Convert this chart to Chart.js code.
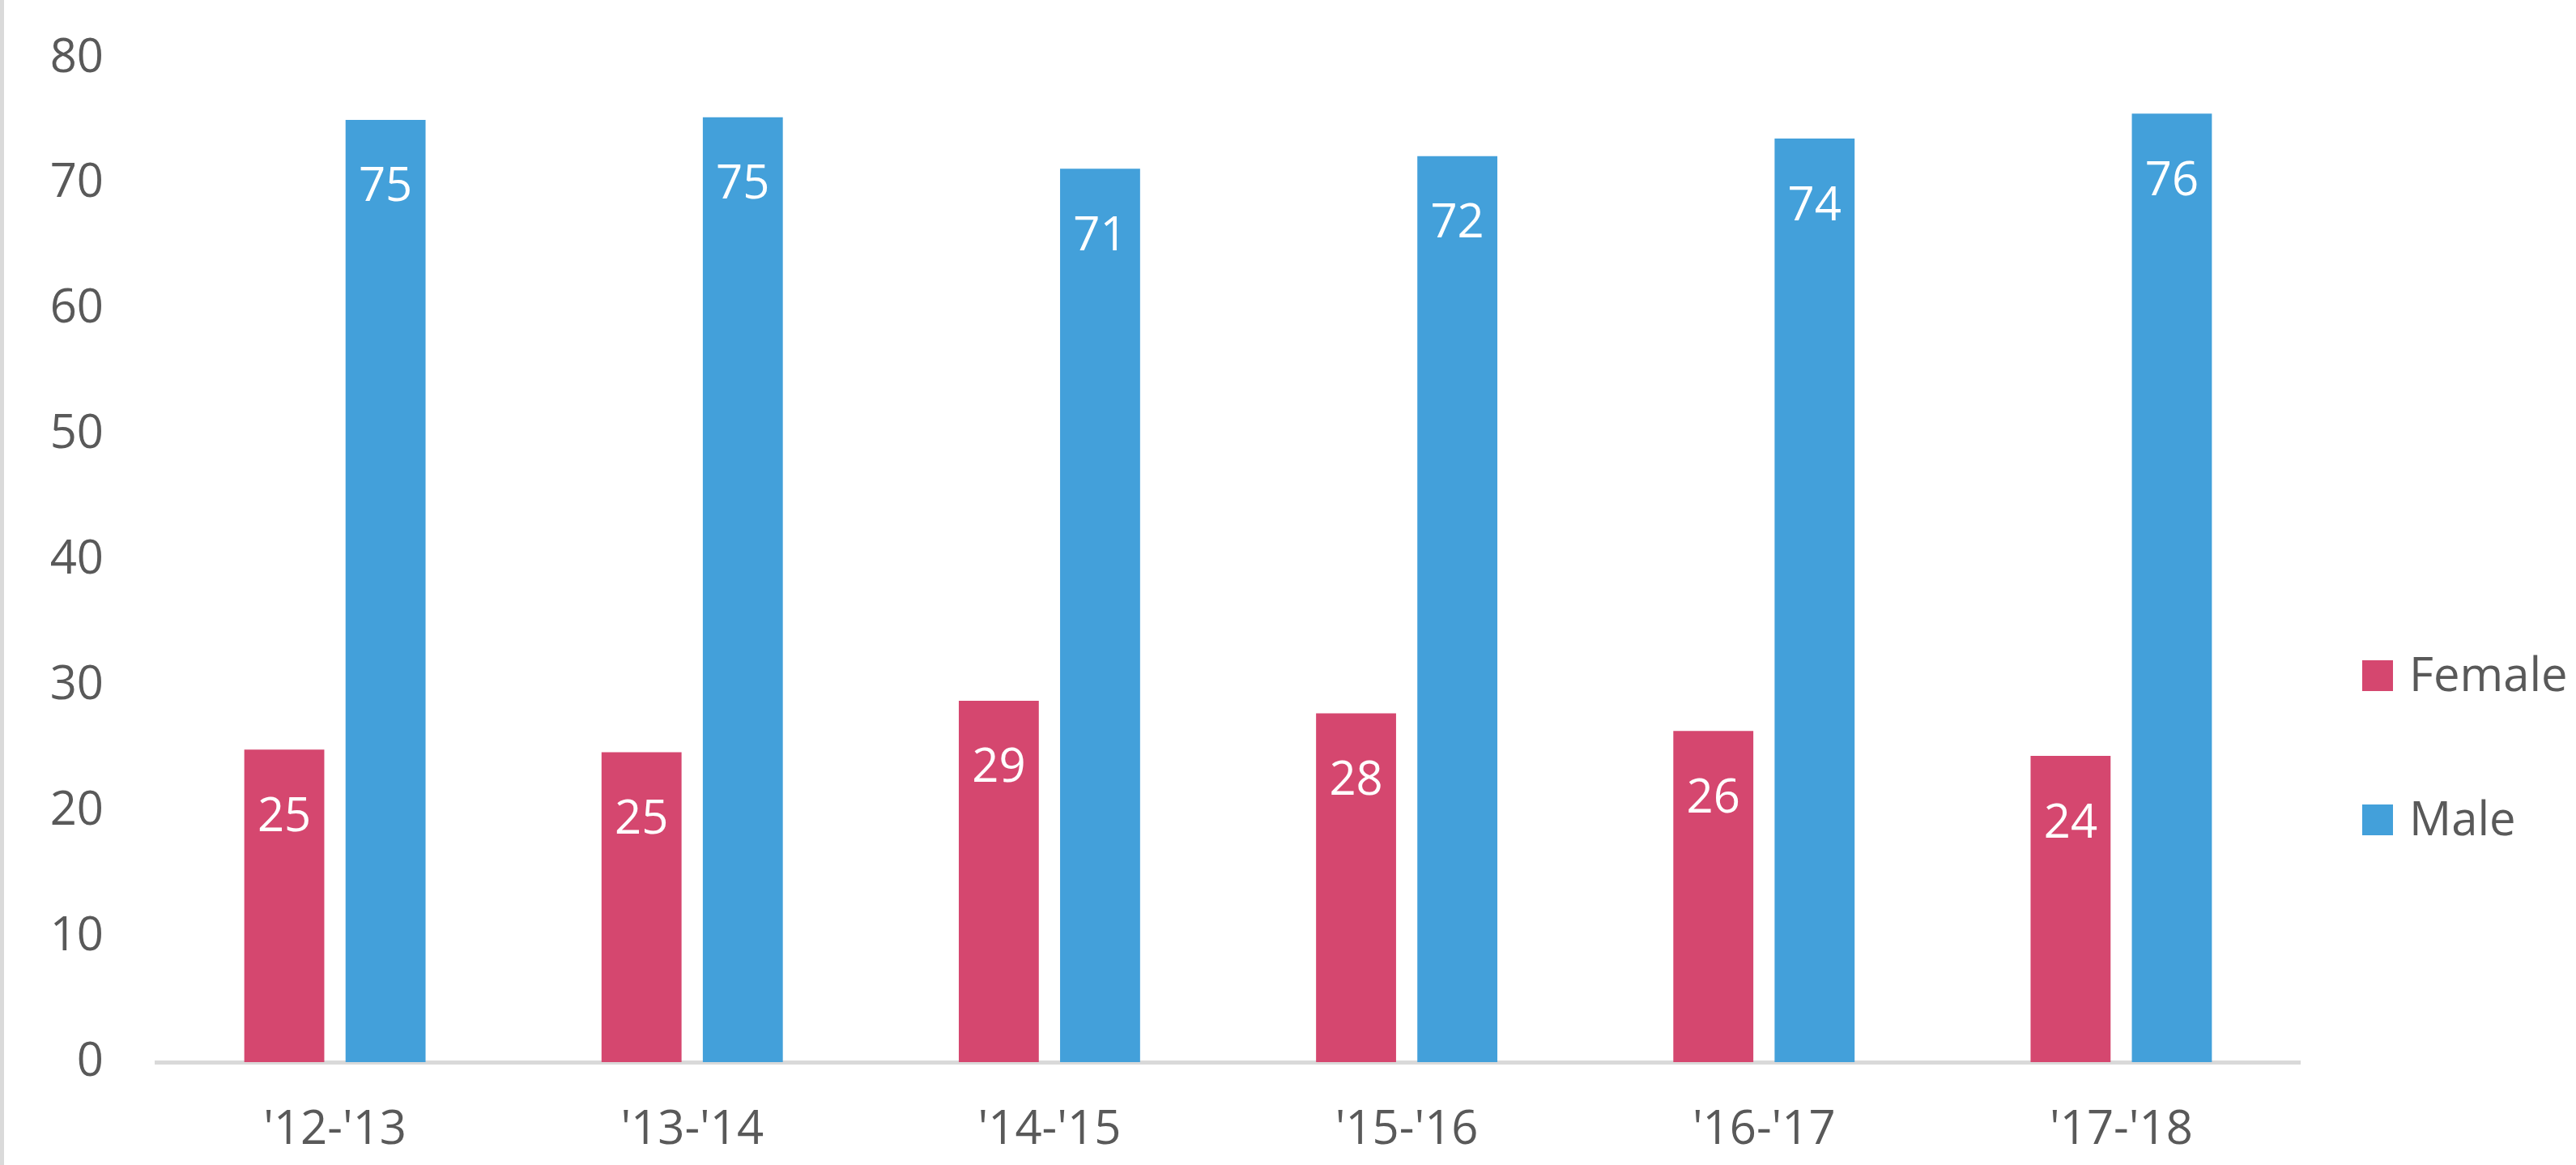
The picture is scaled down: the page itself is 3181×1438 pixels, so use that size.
<!DOCTYPE html>
<html lang="en">
<head>
  <meta charset="utf-8" />
  <title>Female vs Male by Year</title>
  <script src="https://cdn.jsdelivr.net/npm/chart.js@4/dist/chart.umd.min.js"></script>
  <style>
    html, body {
      margin: 0;
      padding: 0;
      background: #ffffff;
      overflow: hidden;
    }
    #chart-container {
      position: relative;
      width: 3181px;
      height: 1438px;
    }
    #left-edge {
      position: absolute;
      left: 0;
      top: 0;
      width: 5px;
      height: 1438px;
      background: #dadada;
    }
  </style>
</head>
<body>
  <div id="chart-container">
    <canvas id="genderBars" width="3181" height="1438"></canvas>
    <div id="left-edge"></div>
  </div>

  <script>
    // Data
    const years = ["'12-'13", "'13-'14", "'14-'15", "'15-'16", "'16-'17", "'17-'18"];
    const female = [24.9, 24.7, 28.8, 27.8, 26.4, 24.4];
    const male = [75.1, 75.3, 71.2, 72.2, 73.6, 75.6];
    const yTicks = [0, 10, 20, 30, 40, 50, 60, 70, 80];

    const TEXT_GREY = "#595959";
    const FONT = "'Open Sans', 'Noto Sans', sans-serif";

    // white value labels just inside the top of each bar
    const valueLabels = {
      id: "valueLabels",
      afterDatasetsDraw(chart) {
        const ctx = chart.ctx;
        ctx.save();
        ctx.fillStyle = "#ffffff";
        ctx.font = "58px " + FONT;
        ctx.textAlign = "center";
        ctx.textBaseline = "middle";
        chart.data.datasets.forEach((ds, i) => {
          chart.getDatasetMeta(i).data.forEach((bar, j) => {
            ctx.fillText(Math.round(ds.data[j]).toString(), bar.x, bar.y + 84);
          });
        });
        ctx.restore();
      }
    };

    // legend on the right, drawn by hand to match its placement
    const sideLegend = {
      id: "sideLegend",
      afterDraw(chart) {
        const ctx = chart.ctx;
        const rows = [834, 1012];
        ctx.save();
        ctx.font = "58px " + FONT;
        ctx.textBaseline = "middle";
        ctx.textAlign = "left";
        chart.data.datasets.forEach((ds, i) => {
          const cy = rows[i];
          ctx.fillStyle = ds.backgroundColor;
          ctx.fillRect(2917, cy - 19, 38, 38);
          ctx.fillStyle = TEXT_GREY;
          ctx.fillText(ds.label, 2975, cy + 2);
        });
        ctx.restore();
      }
    };

    const ctx = document.getElementById("genderBars").getContext("2d");
    new Chart(ctx, {
      type: "bar",
      data: {
        labels: years,
        datasets: [
          {
            label: "Female",
            data: female,
            backgroundColor: "#D5476F",
            categoryPercentage: 0.567,
            barPercentage: 0.79
          },
          {
            label: "Male",
            data: male,
            backgroundColor: "#43A0DA",
            categoryPercentage: 0.567,
            barPercentage: 0.79
          }
        ]
      },
      options: {
        responsive: false,
        animation: false,
        devicePixelRatio: 1,
        layout: {
          padding: { left: 0, right: 341, top: 72, bottom: 0 }
        },
        plugins: {
          legend: { display: false },
          tooltip: { enabled: false },
          title: { display: false }
        },
        scales: {
          x: {
            grid: { display: false, drawTicks: false },
            border: { display: true, color: "#d9d9d9", width: 5 },
            ticks: {
              color: TEXT_GREY,
              font: { family: FONT, size: 58 },
              padding: 50,
              maxRotation: 0
            },
            afterFit(scale) {
              scale.height = 127;
              scale.paddingLeft = 0;
              scale.paddingRight = 0;
            }
          },
          y: {
            min: 0,
            max: 80,
            grid: { display: false, drawTicks: false },
            border: { display: false },
            afterBuildTicks(scale) {
              scale.ticks = yTicks.map(v => ({ value: v }));
            },
            ticks: {
              color: TEXT_GREY,
              font: { family: FONT, size: 58 },
              padding: 65
            },
            afterFit(scale) {
              scale.width = 193;
              scale.paddingTop = 0;
              scale.paddingBottom = 0;
            }
          }
        }
      },
      plugins: [valueLabels, sideLegend]
    });
  </script>
</body>
</html>
